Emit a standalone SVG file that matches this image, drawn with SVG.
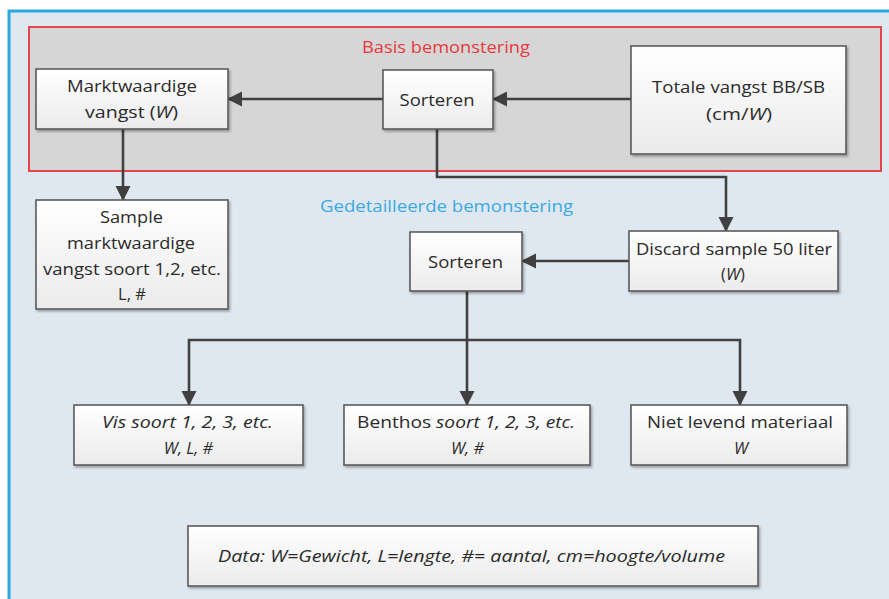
<svg xmlns="http://www.w3.org/2000/svg" width="889" height="599" viewBox="0 0 889 599">
<style>
text{font-family:"Open Sans","Liberation Sans",sans-serif;font-size:16.5px;fill:#2a2a2a;text-anchor:middle}
.i{font-style:italic}
.box{fill:url(#g);stroke:#5a5a5a;stroke-width:1.6;filter:url(#sh)}
.c{fill:none;stroke:#404040;stroke-width:2.6;marker-end:url(#ah)}
</style>
<defs>
<linearGradient id="g" x1="0" y1="0" x2="0" y2="1"><stop offset="0" stop-color="#ffffff"/><stop offset="1" stop-color="#ebebeb"/></linearGradient>
<filter id="sh" x="-10%" y="-10%" width="130%" height="140%"><feDropShadow dx="1.5" dy="2" stdDeviation="1.2" flood-color="#000" flood-opacity="0.3"/></filter>
<marker id="ah" markerUnits="userSpaceOnUse" markerWidth="16" markerHeight="16" refX="14" refY="8" orient="auto"><path d="M0,0.5 L15,8 L0,15.5 z" fill="#404040"/></marker>
</defs>
<rect x="0" y="0" width="889" height="599" fill="#ffffff"/>
<rect x="9" y="11" width="900" height="600" fill="#dfe8f1" stroke="#2aa8e0" stroke-width="3"/>
<g id="basis">
<rect x="29" y="27" width="852" height="144" fill="#d6d6d6" stroke="#e4474b" stroke-width="2"/>
<text x="446" y="53" style="fill:#e8383d;font-size:16px" textLength="168" lengthAdjust="spacingAndGlyphs">Basis bemonstering</text>
</g>
<text x="446.5" y="212" style="fill:#3aa9e2;font-size:16px" textLength="253" lengthAdjust="spacingAndGlyphs">Gedetailleerde bemonstering</text>
<g id="connectors">
<path class="c" d="M631,99 H493"/>
<path class="c" d="M383,99 H228"/>
<path class="c" d="M123,129 V200"/>
<path class="c" d="M437,129 V177 H726 V231"/>
<path class="c" d="M629,261 H522"/>
<path class="c" d="M467,291 V405"/>
<path class="c" d="M467,340 H189 V405"/>
<path class="c" d="M467,340 H740 V405"/>
</g>
<g id="markt">
<rect class="box" x="36" y="69" width="192" height="60"/>
<text x="132" y="92" textLength="130" lengthAdjust="spacingAndGlyphs">Marktwaardige</text>
<text x="131.5" y="118" textLength="93" lengthAdjust="spacingAndGlyphs">vangst (<tspan class="i">W</tspan>)</text>
</g>
<g id="sorteren1">
<rect class="box" x="383" y="70" width="110" height="59"/>
<text x="437" y="106" textLength="75" lengthAdjust="spacingAndGlyphs">Sorteren</text>
</g>
<g id="totale">
<rect class="box" x="631" y="46" width="215" height="108"/>
<text x="738.5" y="93" textLength="173" lengthAdjust="spacingAndGlyphs">Totale vangst BB/SB</text>
<text x="739" y="120" textLength="66" lengthAdjust="spacingAndGlyphs">(cm/<tspan class="i">W</tspan>)</text>
</g>
<g id="sample">
<rect class="box" x="36" y="200" width="192" height="109"/>
<text x="131.5" y="223" textLength="63" lengthAdjust="spacingAndGlyphs">Sample</text>
<text x="131" y="249" textLength="128" lengthAdjust="spacingAndGlyphs">marktwaardige</text>
<text x="132" y="275" textLength="178" lengthAdjust="spacingAndGlyphs">vangst soort 1,2, etc.</text>
<text x="132" y="300">L, #</text>
</g>
<g id="discard">
<rect class="box" x="629" y="231" width="209" height="60"/>
<text x="734" y="255" textLength="196" lengthAdjust="spacingAndGlyphs">Discard sample 50 liter</text>
<text x="733" y="280">(<tspan class="i">W</tspan>)</text>
</g>
<g id="sorteren2">
<rect class="box" x="410" y="232" width="112" height="59"/>
<text x="465.5" y="268" textLength="75" lengthAdjust="spacingAndGlyphs">Sorteren</text>
</g>
<g id="vis">
<rect class="box" x="74" y="405" width="229" height="60"/>
<text class="i" x="187.5" y="428" textLength="171" lengthAdjust="spacingAndGlyphs">Vis soort 1, 2, 3, etc.</text>
<text class="i" x="188.5" y="454">W, L, #</text>
</g>
<g id="benthos">
<rect class="box" x="344" y="405" width="246" height="60"/>
<text x="466" y="428" textLength="218" lengthAdjust="spacingAndGlyphs">Benthos <tspan class="i">soort 1, 2, 3, etc.</tspan></text>
<text class="i" x="467.5" y="454">W, #</text>
</g>
<g id="niet">
<rect class="box" x="631" y="405" width="216" height="60"/>
<text x="740" y="428" textLength="186" lengthAdjust="spacingAndGlyphs">Niet levend materiaal</text>
<text class="i" x="741" y="454">W</text>
</g>
<g id="data">
<rect class="box" x="188" y="526" width="570" height="60"/>
<text class="i" x="471.5" y="562" textLength="507" lengthAdjust="spacingAndGlyphs">Data: W=Gewicht, L=lengte, #= aantal, cm=hoogte/volume</text>
</g>
</svg>
